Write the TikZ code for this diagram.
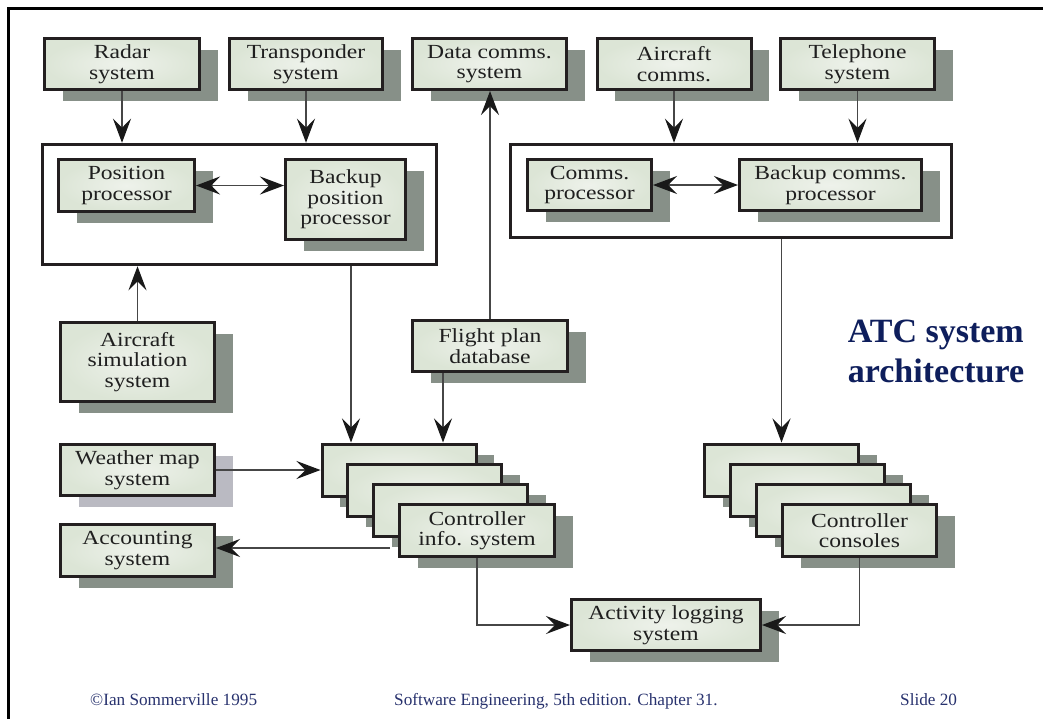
\documentclass[tikz,border=0pt]{standalone}
\usepackage{fontspec}
\setmainfont{Liberation Serif}
\newfontfamily\boxfont[FakeStretch=1.18]{Liberation Serif}
\usetikzlibrary{shadows,arrows.meta,calc}
\definecolor{boxfill}{RGB}{220,229,214}
\definecolor{boxcenter}{RGB}{238,242,235}
\definecolor{shadowc}{RGB}{135,144,136}
\definecolor{wshadow}{RGB}{186,186,194}
\definecolor{boxline}{RGB}{35,31,32}
\definecolor{linec}{RGB}{70,70,70}
\definecolor{headc}{RGB}{25,25,25}
\definecolor{navy}{RGB}{14,30,92}
\definecolor{footc}{RGB}{40,50,110}
\newcommand\mkbox[7][]{\node[sys,#1,minimum width=#5pt,minimum height=#6pt] (#2) at (#3,#4) {#7};}
\begin{document}
\begin{tikzpicture}[x=1pt,y=-1pt,
  sys/.style={draw=boxline, line width=3pt, inner color=boxcenter, outer color=boxfill, align=center, inner sep=0pt,
    text=black!88, font=\boxfont\fontsize{20}{20.5}\selectfont,
    drop shadow={shadow xshift=18pt, shadow yshift=-11pt, fill=shadowc, opacity=1}},
  wsys/.style={drop shadow={shadow xshift=18pt, shadow yshift=-11pt, fill=wshadow, opacity=1}},
  grp/.style={draw=boxline, line width=3.5pt, fill=white, inner sep=0pt},
  con/.style={draw=linec, line width=1.2pt},
  arr/.style={con, -{Stealth[length=24pt,width=18pt,inset=9pt,color=headc]}},
  darr/.style={con, {Stealth[length=24pt,width=18pt,inset=9pt,color=headc]}-{Stealth[length=24pt,width=18pt,inset=9pt,color=headc]}},
  foot/.style={text=footc, font=\fontsize{17.2}{19}\selectfont, anchor=base west, inner sep=0pt},
]
\useasboundingbox (0,0) rectangle (1043,718);
\fill[white] (0,0) rectangle (1043,718);
\draw[line width=3pt, line cap=rect] (8,718) -- (8,8) -- (1043,8);

% top row
\mkbox{radar}{122}{64}{155}{51}{Radar\\system}
\mkbox{transp}{306}{64}{153}{51}{Transponder\\system}
\mkbox{data}{489.5}{64}{154}{51}{Data comms.\\system}
\mkbox{aircomms}{674}{64}{154}{51}{Aircraft\\comms.}
\mkbox{tele}{857.5}{64}{154}{51}{Telephone\\system}

% groups
\node[grp, minimum width=394pt, minimum height=120pt] (leftouter) at (239.5,204.5) {};
\node[grp, minimum width=441pt, minimum height=93pt] (rightouter) at (731,191) {};
\mkbox{posproc}{126.5}{185.5}{136}{52}{Position\\processor}
\mkbox{bkpos}{345.5}{199.5}{120}{80}{Backup\\position\\processor}
\mkbox{commproc}{589.5}{185}{124}{51}{Comms.\\processor}
\mkbox{bkcomm}{830.5}{185}{182}{51}{Backup comms.\\processor}

% middle left
\mkbox{airsim}{137.5}{362}{154}{79}{Aircraft\\simulation\\system}
\mkbox{flight}{490}{346}{155}{51}{Flight plan\\database}
\mkbox[wsys]{weather}{137.5}{470}{154}{51}{Weather map\\system}
\mkbox{account}{137.5}{550.5}{154}{52}{Accounting\\system}

% controller info stack
\mkbox{cis1}{399}{470}{154}{52}{}
\mkbox{cis2}{424.5}{490}{154}{52}{}
\mkbox{cis3}{450.5}{510}{154}{52}{}
\mkbox{cis4}{477}{530.5}{155}{52}{Controller\\info. system}

% controller consoles stack
\mkbox{cc1}{781.5}{470}{154}{52}{}
\mkbox{cc2}{807.5}{490}{154}{52}{}
\mkbox{cc3}{833.5}{510}{154}{52}{}
\mkbox{cc4}{859.5}{530.5}{154}{52}{Controller\\consoles}

\mkbox{activity}{666}{625}{189}{51}{Activity logging\\system}

% title
\node[text=navy, font=\bfseries\fontsize{34}{40}\selectfont, align=left, inner sep=0pt] (title) at (936,351) {ATC system\\architecture};

% connectors
\draw[arr] (radar.south) -- (radar.south |- leftouter.north);
\draw[arr] (transp.south) -- (transp.south |- leftouter.north);
\draw[arr] (aircomms.south) -- (aircomms.south |- rightouter.north);
\draw[arr] (tele.south) -- (tele.south |- rightouter.north);
\draw[darr] (posproc.east) -- (posproc.east -| bkpos.west);
\draw[darr] (commproc.east) -- (commproc.east -| bkcomm.west);
\draw[arr] (airsim.north) -- (airsim.north |- leftouter.south);
\draw[arr] (351,0 |- leftouter.south) -- (351,0 |- cis1.north);
\draw[arr] (443,0 |- flight.south) -- (443,0 |- cis1.north);
\draw[arr] (flight.north) -- (flight.north |- data.south);
\draw[arr] (cc1.north |- rightouter.south) -- (cc1.north);
\draw[arr] (weather.east) -- (weather.east -| cis1.west);
\coordinate (accsrc) at (390,548);
\draw[arr] (accsrc) -- (accsrc -| account.east);
\draw[arr] (cis4.south) |- (activity.west);
\draw[arr] (cc4.south) |- (activity.east);

% footer
\node[foot] (f1) at (90,705) {\textcopyright Ian Sommerville 1995};
\node[foot] (f2) at (394,705) {Software Engineering, 5th edition. Chapter 31.};
\node[foot] (f3) at (900,705) {Slide 20};
\end{tikzpicture}
\end{document}
